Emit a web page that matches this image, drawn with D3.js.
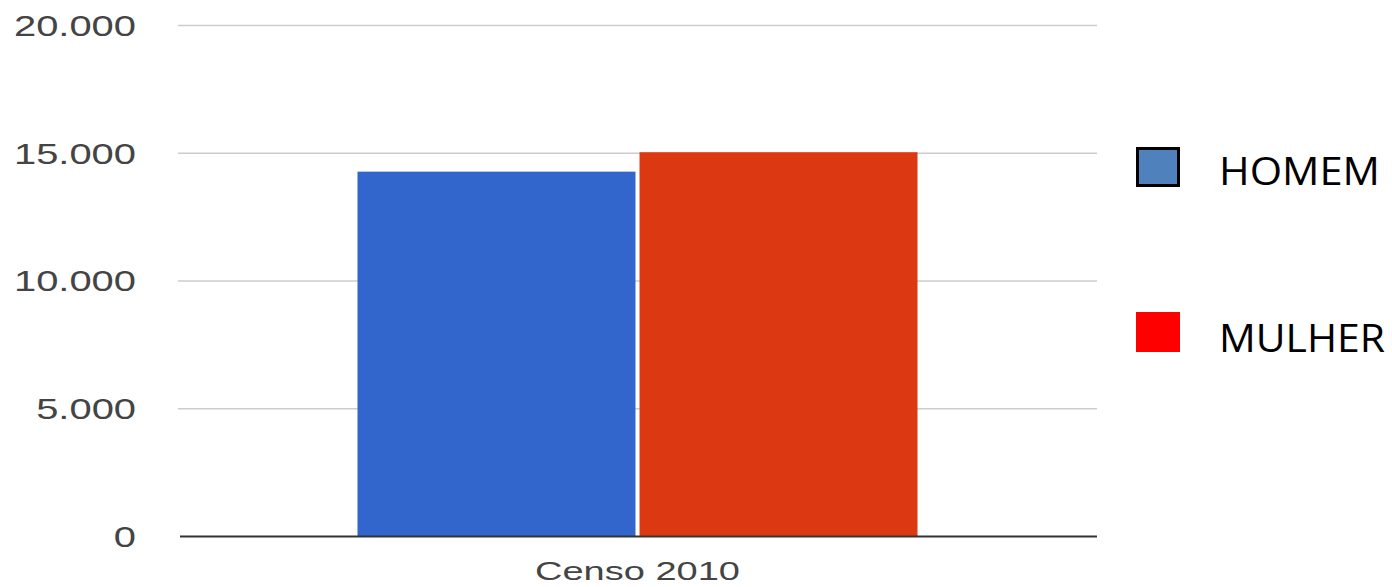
<!DOCTYPE html>
<html>
<head>
<meta charset="utf-8">
<script src="https://cdn.jsdelivr.net/npm/d3@7"></script>
<style>
  html, body { margin: 0; padding: 0; background: #fff; }
  svg { display: block; }
</style>
</head>
<body>
<svg id="chart" width="1392" height="587"></svg>
<script>
// ---- data ----
const categories = ["Censo 2010"];
const seriesNames = ["HOMEM", "MULHER"];
const homemValues = [14280];
const mulherValues = [15040];
const yTicks = [0, 5000, 10000, 15000, 20000];
const barColors = ["#3366cc", "#dc3912"];
const legendColors = ["#4f81bd", "#ff0000"];

// ---- layout ----
const svg = d3.select("#chart");
const plotLeft = 178, plotRight = 1097, plotTop = 25.5, plotBottom = 536.5;

const y = d3.scaleLinear().domain([0, 20000]).range([plotBottom, plotTop]);
const x0 = d3.scaleBand().domain(categories).range([plotLeft, plotRight])
  .paddingInner(0).paddingOuter(0.3205);
const x1 = d3.scaleBand().domain(seriesNames).range([0, x0.bandwidth()]).paddingInner(0.0143);

const ptFormat = d3.formatLocale({ decimal: ",", thousands: ".", grouping: [3], currency: ["", ""] }).format(",");

// gridlines
svg.append("g")
  .selectAll("line")
  .data(yTicks.filter(d => d !== 0))
  .join("line")
  .attr("x1", plotLeft).attr("x2", plotRight)
  .attr("y1", d => y(d)).attr("y2", d => y(d))
  .attr("stroke", "#cccccc").attr("stroke-width", 1.6);

// y axis labels
const yAxis = svg.append("g")
  .attr("transform", `translate(${plotLeft},0)`)
  .call(d3.axisLeft(y).tickValues(yTicks).tickSize(0).tickPadding(42).tickFormat(ptFormat));
yAxis.select(".domain").remove();
yAxis.selectAll("text")
  .attr("font-family", "Liberation Sans, Arial, sans-serif")
  .attr("font-size", 30)
  .attr("fill", "#444")
  .attr("dy", "0.33em")
  .each(function () {
    const len = this.getComputedTextLength();
    d3.select(this).attr("textLength", len * 1.33).attr("lengthAdjust", "spacingAndGlyphs");
  });

// bars
const rows = categories.map((c, i) => ({ cat: c, vals: [homemValues[i], mulherValues[i]] }));
svg.append("g")
  .selectAll("g")
  .data(rows)
  .join("g")
  .attr("transform", d => `translate(${x0(d.cat)},0)`)
  .selectAll("rect")
  .data(d => d.vals.map((v, j) => ({ key: seriesNames[j], v, j })))
  .join("rect")
  .attr("x", d => x1(d.key))
  .attr("width", x1.bandwidth())
  .attr("y", d => y(d.v))
  .attr("height", d => y(0) - y(d.v))
  .attr("fill", d => barColors[d.j]);

// baseline
svg.append("line")
  .attr("x1", plotLeft + 2).attr("x2", plotRight)
  .attr("y1", y(0)).attr("y2", y(0))
  .attr("stroke", "#333").attr("stroke-width", 2);

// x axis label
const xAxis = svg.append("g")
  .attr("transform", `translate(0,${plotBottom})`)
  .call(d3.axisBottom(x0).tickSize(0).tickPadding(0));
xAxis.select(".domain").remove();
xAxis.selectAll("text")
  .attr("font-family", "Liberation Sans, Arial, sans-serif")
  .attr("font-size", 26)
  .attr("fill", "#444")
  .attr("dy", null)
  .attr("y", 43.5)
  .attr("textLength", 205)
  .attr("lengthAdjust", "spacingAndGlyphs");

// legend
const legendY = [147, 312];
const legendTextY = [185, 352];
const legendTextLen = [161, 166];
const lg = svg.append("g");
lg.selectAll("rect")
  .data(seriesNames)
  .join("rect")
  .attr("x", (d, i) => i === 0 ? 1137.5 : 1136)
  .attr("y", (d, i) => i === 0 ? legendY[i] + 1.5 : legendY[i])
  .attr("width", (d, i) => i === 0 ? 41 : 44)
  .attr("height", (d, i) => i === 0 ? 37 : 40)
  .attr("fill", (d, i) => legendColors[i])
  .attr("stroke", (d, i) => i === 0 ? "#000" : "none")
  .attr("stroke-width", 3);
lg.selectAll("text")
  .data(seriesNames)
  .join("text")
  .attr("x", 1219)
  .attr("y", (d, i) => legendTextY[i])
  .attr("font-family", "Open Sans, sans-serif")
  .attr("font-size", 39)
  .attr("fill", "#000")
  .attr("textLength", (d, i) => legendTextLen[i])
  .attr("lengthAdjust", "spacingAndGlyphs")
  .text(d => d);
</script>
</body>
</html>
